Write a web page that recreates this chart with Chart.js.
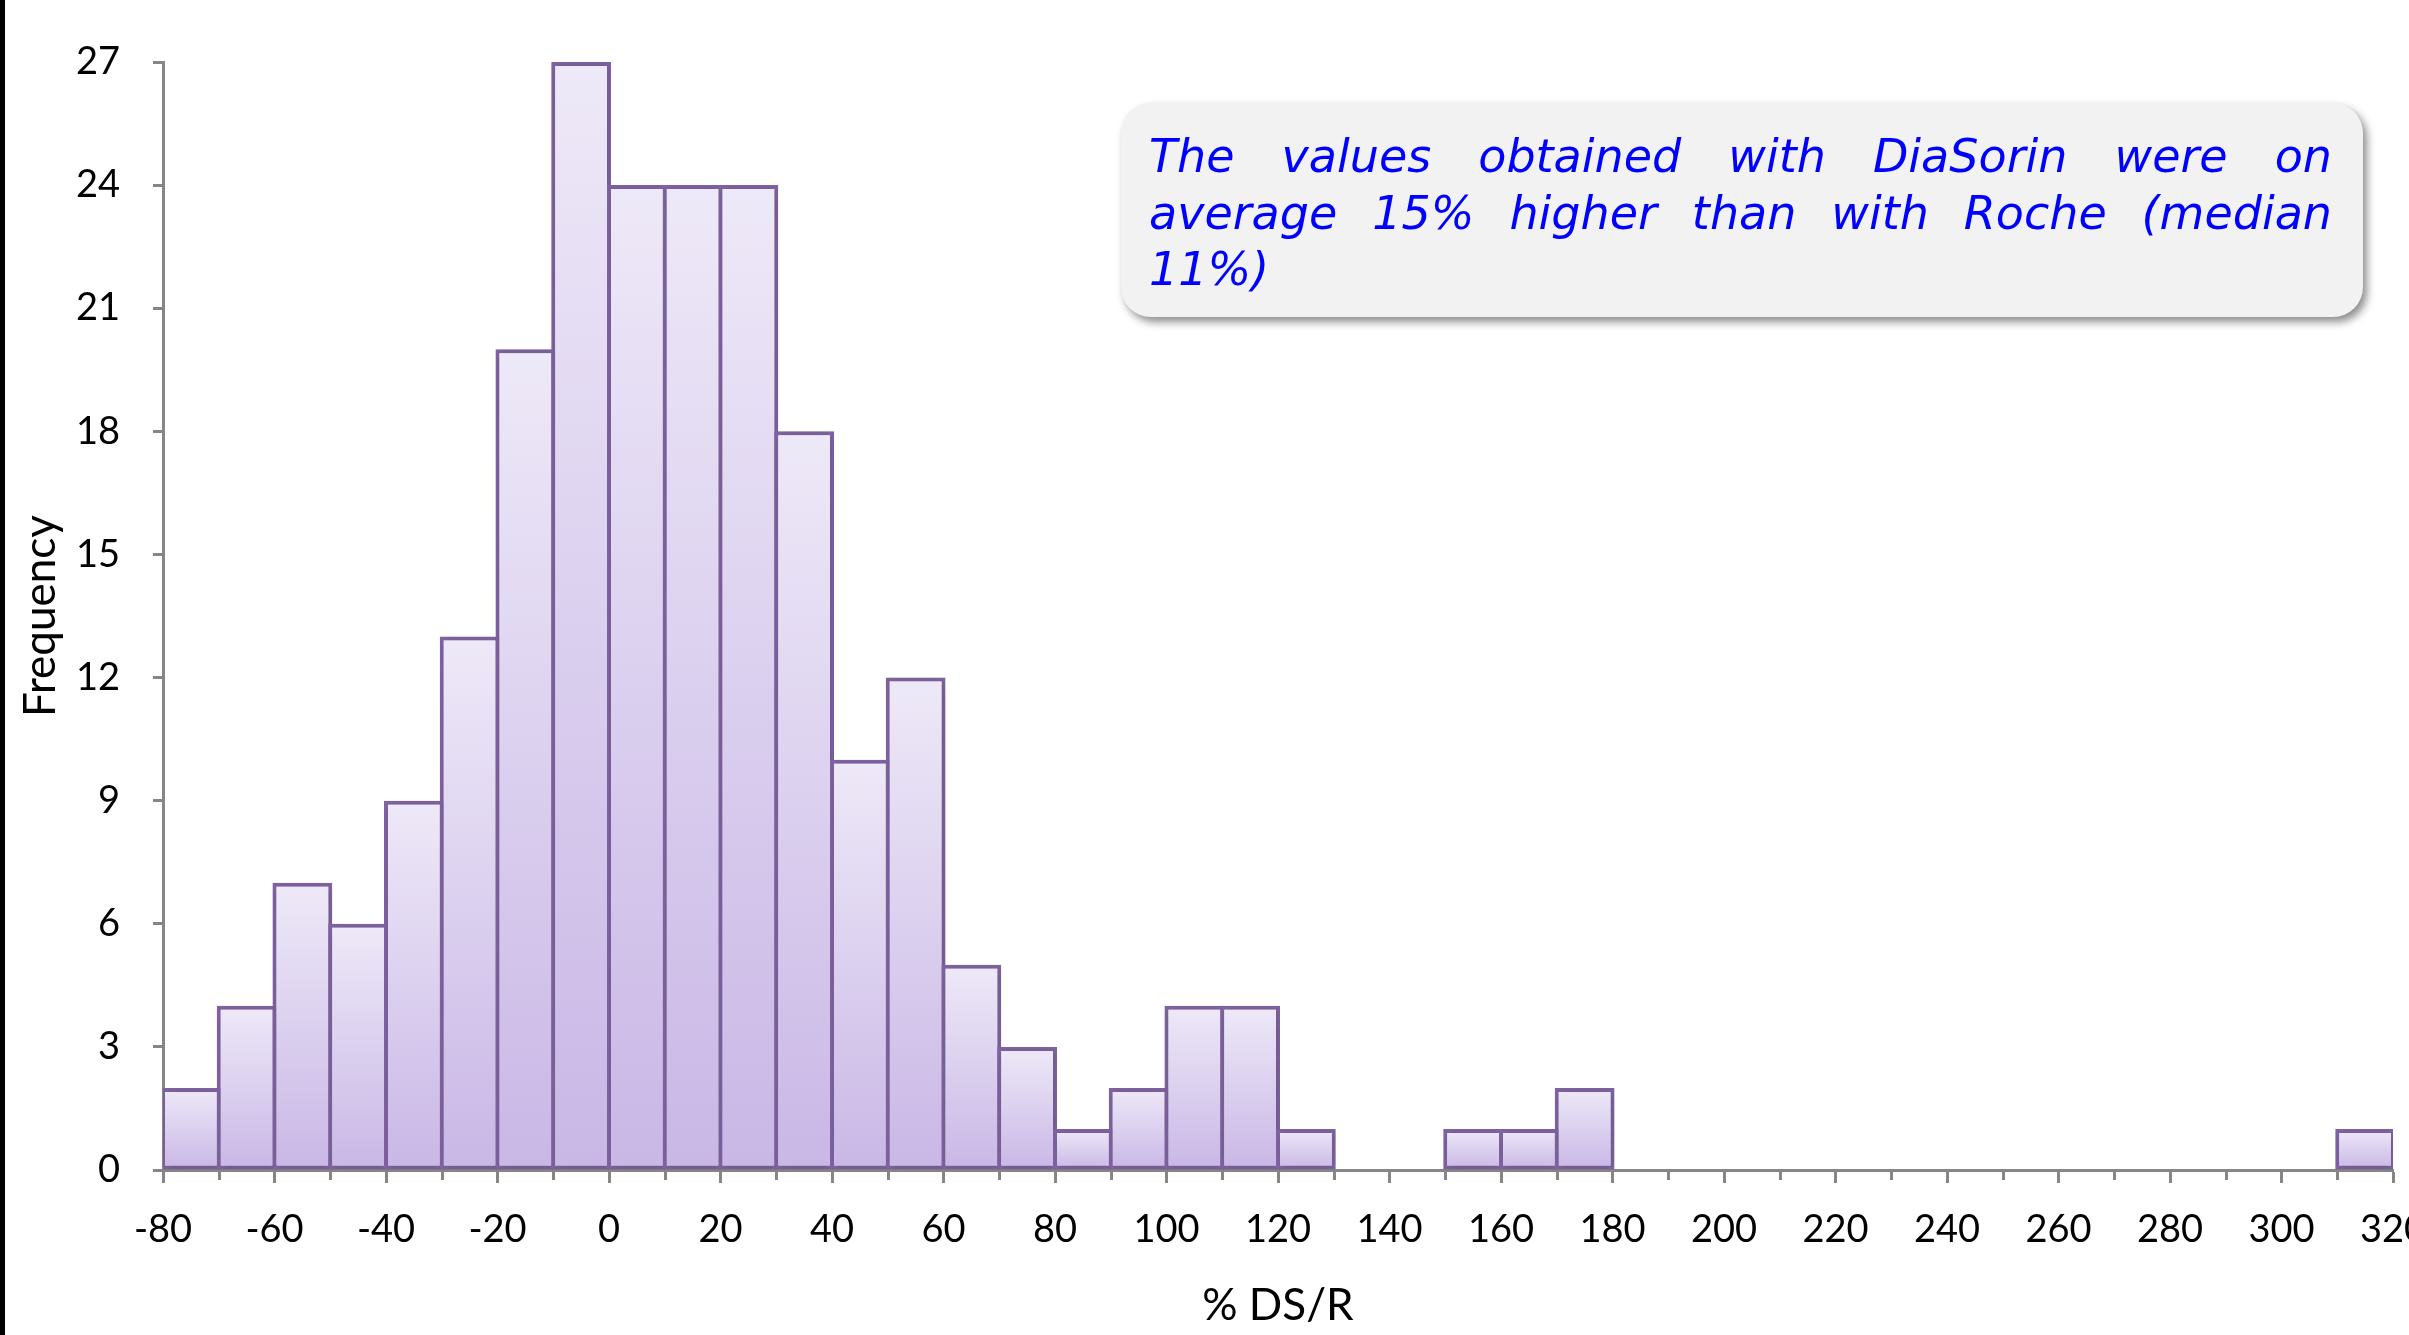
<!DOCTYPE html>
<html>
<head>
<meta charset="utf-8">
<title>% DS/R histogram</title>
<script src="https://cdn.jsdelivr.net/npm/chart.js@4.4.1/dist/chart.umd.min.js"></script>
<style>
  html, body { margin: 0; padding: 0; background: #fff; overflow: hidden; }
  #wrap { position: relative; width: 2409px; height: 1335px; }
  #edge { position: absolute; left: 0; top: 0; width: 5px; height: 1335px; background: #000; }
  canvas { display: block; }
</style>
</head>
<body>
<div id="wrap">
  <canvas id="hist"></canvas>
  <div id="edge"></div>
</div>
<script>
// Lower edge of each 10-unit bin of % DS/R
const binStarts = [-80, -70, -60, -50, -40, -30, -20, -10, 0, 10,
                   20, 30, 40, 50, 60, 70, 80, 90, 100, 110,
                   120, 130, 140, 150, 160, 170, 180, 190, 200, 210,
                   220, 230, 240, 250, 260, 270, 280, 290, 300, 310];
// Number of samples falling in each bin
const counts = [2, 4, 7, 6, 9, 13, 20, 27, 24, 24,
                24, 18, 10, 12, 5, 3, 1, 2, 4, 4,
                1, 0, 0, 1, 1, 2, 0, 0, 0, 0,
                0, 0, 0, 0, 0, 0, 0, 0, 0, 1];
const binWidth = 10;

// Axis ranges and tick spacing
const xRange = [-80, 320];
const xLabelStep = 20;
const yRange = [0, 27];
const yLabelStep = 3;

const xTitle = '% DS/R';
const yTitle = 'Frequency';
const noteLines = [
  'The values obtained with DiaSorin were on',
  'average 15% higher than with Roche (median',
  '11%)'
];

const wrap = document.getElementById('wrap');
const canvas = document.getElementById('hist');
canvas.width = 2409; canvas.height = 1335;

const axisGrey = '#868686';
const barEdge = '#8064a2';

// Bar points: centred in their bins; empty bins are left out of the drawing
const points = binStarts.map((s, i) => ({ x: s + binWidth / 2, y: counts[i] === 0 ? null : counts[i] }));

// Vertical light-to-lavender fill for each bar
function barFill(ctx) {
  const chart = ctx.chart;
  const y = chart.scales && chart.scales.y;
  if (!chart.chartArea || !y || ctx.type !== 'data' || ctx.raw == null || ctx.raw.y == null) return '#dcd0f0';
  const top = y.getPixelForValue(ctx.raw.y);
  const base = y.getPixelForValue(0);
  const g = chart.ctx.createLinearGradient(0, top, 0, base);
  g.addColorStop(0, '#eee9f8');
  g.addColorStop(1, '#c9b7e6');
  return g;
}

// Soft shadow behind the bars
const barShadow = {
  id: 'barShadow',
  beforeDatasetDraw(chart) {
    const c = chart.ctx;
    c.save();
    c.shadowColor = 'rgba(0,0,0,0.20)';
    c.shadowBlur = 9;
    c.shadowOffsetX = 1;
    c.shadowOffsetY = 1;
  },
  afterDatasetDraw(chart) { chart.ctx.restore(); }
};

// Short unlabelled ticks halfway between the labelled ones
const minorTicks = {
  id: 'minorTicks',
  beforeDatasetsDraw(chart) {
    const xs = chart.scales.x;
    const c = chart.ctx;
    const bottom = chart.chartArea.bottom;
    c.save();
    c.strokeStyle = axisGrey;
    c.lineWidth = 3;
    for (let v = xRange[0] + xLabelStep / 2; v < xRange[1]; v += xLabelStep) {
      const px = Math.round(xs.getPixelForValue(v)) + 0.5;
      c.beginPath();
      c.moveTo(px, bottom);
      c.lineTo(px, bottom + 10);
      c.stroke();
    }
    c.restore();
  }
};

// Rounded grey call-out with justified blue italic text
const noteBox = {
  id: 'noteBox',
  afterDraw(chart) {
    const c = chart.ctx;
    const bx = 1121, by = 103, bw = 1242, bh = 214, r = 30;
    c.save();
    c.shadowColor = 'rgba(0,0,0,0.45)';
    c.shadowBlur = 8;
    c.shadowOffsetX = 4;
    c.shadowOffsetY = 5;
    c.fillStyle = '#f2f2f2';
    c.beginPath();
    c.roundRect(bx, by, bw, bh, r);
    c.fill();
    c.restore();

    c.save();
    c.font = 'italic 46px "DejaVu Sans"';
    c.fillStyle = '#0000ff';
    c.textBaseline = 'alphabetic';
    c.textAlign = 'left';
    const left = 1149, right = 2332;
    const baselines = [172, 228.5, 285];
    noteLines.forEach((line, i) => {
      const words = line.split(' ');
      const last = i === noteLines.length - 1;
      if (last || words.length < 2) {
        c.fillText(line, left, baselines[i]);
        return;
      }
      const widths = words.map(w => c.measureText(w).width);
      const total = widths.reduce((a, b) => a + b, 0);
      const gap = (right - left - total) / (words.length - 1);
      let x = left;
      words.forEach((w, k) => {
        c.fillText(w, x, baselines[i]);
        x += widths[k] + gap;
      });
    });
    c.restore();
  }
};

Chart.defaults.font.family = 'Lato, "Open Sans", sans-serif';
Chart.defaults.color = '#000';

new Chart(canvas, {
  type: 'bar',
  data: {
    datasets: [{
      label: yTitle,
      data: points,
      backgroundColor: barFill,
      borderColor: barEdge,
      borderWidth: 4,
      borderSkipped: false,
      barPercentage: 1.072,
      categoryPercentage: 1
    }]
  },
  options: {
    responsive: false,
    animation: false,
    events: [],
    layout: { padding: { top: 62, right: 16, left: 0, bottom: 0 } },
    plugins: {
      legend: { display: false },
      tooltip: { enabled: false }
    },
    scales: {
      x: {
        type: 'linear',
        min: xRange[0],
        max: xRange[1],
        offset: false,
        grid: {
          display: true,
          drawOnChartArea: false,
          drawTicks: true,
          tickLength: 13,
          tickWidth: 3,
          tickColor: axisGrey,
          offset: false
        },
        border: { display: true, color: axisGrey, width: 3 },
        ticks: {
          stepSize: xLabelStep,
          autoSkip: false,
          maxRotation: 0,
          minRotation: 0,
          padding: 24,
          font: { size: 38 },
          color: '#000'
        },
        title: {
          display: true,
          text: xTitle,
          font: { size: 44 },
          color: '#000',
          padding: { top: 0, bottom: 3 }
        },
        afterFit(scale) {
          scale.height = 165;
          scale.paddingLeft = 0;
          scale.paddingRight = 0;
        }
      },
      y: {
        min: yRange[0],
        max: yRange[1],
        grid: {
          display: true,
          drawOnChartArea: false,
          drawTicks: true,
          tickLength: 10,
          tickWidth: 3,
          tickColor: axisGrey
        },
        border: { display: true, color: axisGrey, width: 3 },
        ticks: {
          stepSize: yLabelStep,
          padding: 33,
          font: { size: 38 },
          color: '#000'
        },
        title: {
          display: true,
          text: yTitle,
          font: { size: 44 },
          color: '#000',
          padding: { top: 14, bottom: 0 }
        },
        afterFit(scale) {
          scale.width = 163;
          scale.paddingTop = 0;
          scale.paddingBottom = 0;
        }
      }
    }
  },
  plugins: [barShadow, minorTicks, noteBox]
});
</script>
</body>
</html>
